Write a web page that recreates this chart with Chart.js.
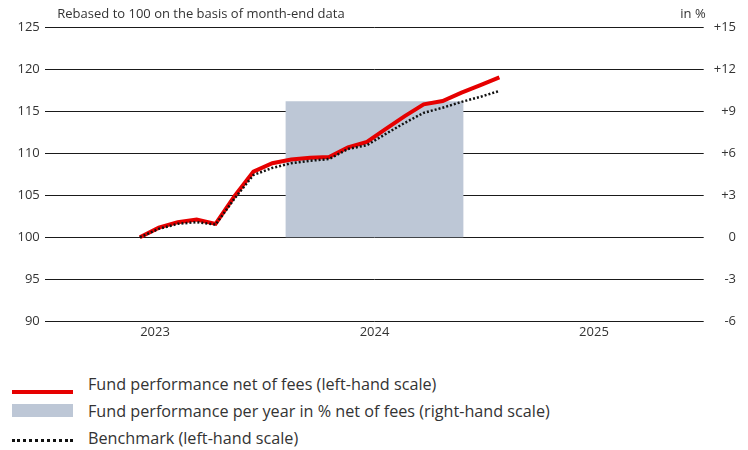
<!DOCTYPE html>
<html>
<head>
<meta charset="utf-8">
<script src="https://cdn.jsdelivr.net/npm/chart.js@4"></script>
<style>
    body { margin: 0; background: #fff; font-family: 'Open Sans', sans-serif; }
    #wrap { position: relative; width: 748px; height: 450px; }
    #chartBox { position: absolute; left: 0; top: 0; width: 748px; height: 343px; }
    #legend { position: absolute; left: 12px; top: 370px; color: #333; font-size: 16.2px; }
    .item { height: 27px; display: flex; align-items: center; }
    .sample { width: 61px; margin-right: 15px; }
    .red { height: 0; border-top: 4px solid #e60000; margin-top: 16px; }
    .box { height: 13px; background: #bdc7d6; }
    .dots { height: 0; border-top: 3px dotted #111; margin-top: 6px; }
</style>
</head>
<body>
<div id="wrap">
    <div id="chartBox"><canvas id="perfChart"></canvas></div>
    <div id="legend">
        <div class="item"><div class="sample red"></div><span>Fund performance net of fees (left-hand scale)</span></div>
        <div class="item"><div class="sample box"></div><span>Fund performance per year in % net of fees (right-hand scale)</span></div>
        <div class="item"><div class="sample dots"></div><span>Benchmark (left-hand scale)</span></div>
    </div>
</div>
<script>
// Performance chart: rebased lines (left scale) + yearly bar (right scale)
const years = ['2023', '2024', '2025'];
const yearlyPerf = [null, 9.7, null];

// month-end points, position = months since 1 Jan 2023
const monthLabels = ['May 23', 'Jun 23', 'Jul 23', 'Aug 23', 'Sep 23', 'Oct 23', 'Nov 23', 'Dec 23',
    'Jan 24', 'Feb 24', 'Mar 24', 'Apr 24', 'May 24', 'Jun 24', 'Jul 24', 'Aug 24', 'Sep 24', 'Oct 24', 'Nov 24', 'Dec 24'];
const monthPos = [5, 6, 7, 8, 9, 10, 11, 12, 13, 14, 15, 16, 17, 18, 19, 20, 21, 22, 23, 24];
const fundNet = [100, 101.15, 101.8, 102.1, 101.6, 104.9, 107.8, 108.8, 109.25, 109.45,
    109.55, 110.7, 111.35, 112.9, 114.4, 115.8, 116.2, 117.2, 118.1, 119.0];
const benchmark = [100, 101.0, 101.6, 101.8, 101.5, 104.6, 107.4, 108.25, 108.8, 109.1,
    109.3, 110.5, 110.95, 112.3, 113.6, 114.8, 115.4, 116.1, 116.7, 117.4];

const leftTicks = [90, 125, 5];
const rightTicks = [-6, 15, 3];

const topNote = 'Rebased to 100 on the basis of month-end data';
const unitNote = 'in %';

const toPoints = (vals) => vals.map((v, i) => ({ x: monthPos[i], y: v }));

const notesPlugin = {
    id: 'notes',
    afterDraw(chart) {
        const { ctx, chartArea } = chart;
        ctx.save();
        ctx.font = '13px "Open Sans", sans-serif';
        ctx.fillStyle = '#333';
        ctx.textBaseline = 'middle';
        ctx.textAlign = 'left';
        ctx.fillText(topNote, chartArea.left + 12, 14);
        ctx.textAlign = 'right';
        ctx.fillText(unitNote, chartArea.right + 2, 14);
        ctx.restore();
    }
};

document.addEventListener('DOMContentLoaded', function () {
    const ctx = document.getElementById('perfChart');

    new Chart(ctx, {
        type: 'bar',
        data: {
            labels: years,
            datasets: [{
                type: 'line',
                label: 'Benchmark (left-hand scale)',
                data: toPoints(benchmark),
                xAxisID: 'xm',
                yAxisID: 'y',
                borderColor: '#111',
                borderWidth: 2.5,
                borderDash: [2, 2],
                pointRadius: 0,
                tension: 0,
                order: 1
            }, {
                type: 'line',
                label: 'Fund performance net of fees (left-hand scale)',
                data: toPoints(fundNet),
                xAxisID: 'xm',
                yAxisID: 'y',
                borderColor: '#e60000',
                borderWidth: 4,
                pointRadius: 0,
                tension: 0,
                order: 2
            }, {
                label: 'Fund performance per year in % net of fees (right-hand scale)',
                data: yearlyPerf,
                xAxisID: 'x',
                yAxisID: 'y2',
                backgroundColor: '#bdc7d6',
                grouped: false,
                barPercentage: 0.81,
                categoryPercentage: 1,
                order: 3
            }]
        },
        options: {
            responsive: true,
            maintainAspectRatio: false,
            animation: false,
            layout: {
                padding: { left: 12, right: 12, top: 27, bottom: 0 }
            },
            plugins: {
                legend: { display: false },
                tooltip: { enabled: false }
            },
            scales: {
                x: {
                    type: 'category',
                    offset: true,
                    grid: { display: false, drawTicks: false },
                    border: { display: false },
                    ticks: {
                        color: '#333',
                        font: { family: 'Open Sans', size: 13 },
                        padding: 3
                    }
                },
                xm: {
                    type: 'linear',
                    display: false,
                    offset: false,
                    min: 0,
                    max: 34.8
                },
                y: {
                    position: 'left',
                    min: leftTicks[0],
                    max: leftTicks[1],
                    ticks: {
                        stepSize: leftTicks[2],
                        color: '#333',
                        font: { family: 'Open Sans', size: 13 },
                        padding: 5.5
                    },
                    grid: {
                        color: '#1a1a1a',
                        lineWidth: 1,
                        drawTicks: false
                    },
                    border: { display: false }
                },
                y2: {
                    position: 'right',
                    min: rightTicks[0],
                    max: rightTicks[1],
                    ticks: {
                        stepSize: rightTicks[2],
                        color: '#333',
                        font: { family: 'Open Sans', size: 13 },
                        padding: 5,
                        crossAlign: 'far',
                        callback: function (v) {
                            return v > 0 ? '+' + v : String(v);
                        }
                    },
                    grid: { display: false, drawTicks: false },
                    border: { display: false }
                }
            }
        },
        plugins: [notesPlugin]
    });
});
</script>
</body>
</html>
